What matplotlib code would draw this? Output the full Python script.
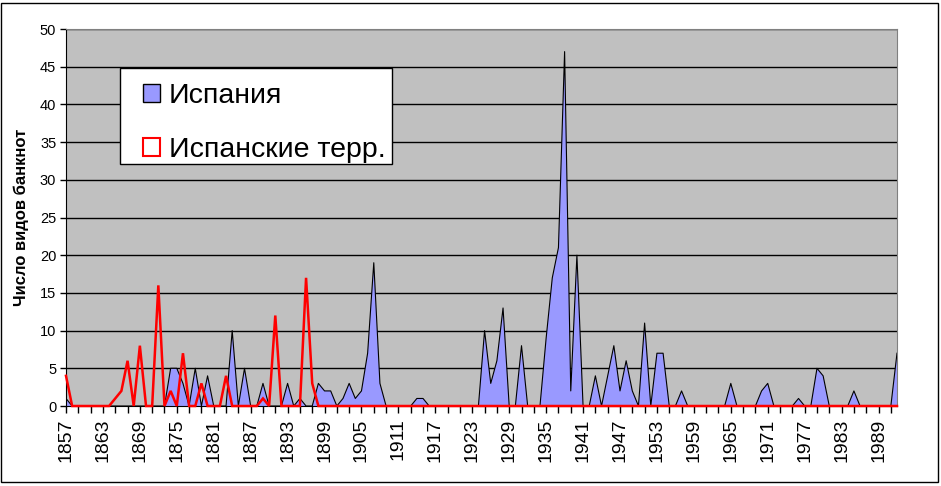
import matplotlib
matplotlib.use("Agg")
import matplotlib.pyplot as plt
from matplotlib.patches import Patch, Rectangle
import numpy as np

plt.rcParams['font.family'] = ['Liberation Sans', 'DejaVu Sans']

years = list(range(1857, 1993))

# Испания (blue area), one value per year 1857..1992
spain = [
    1, 0, 0, 0, 0, 0, 0, 0, 0, 0,          # 1857-1866
    0, 0, 0, 0, 0, 0, 0, 5, 5, 3,          # 1867-1876
    0, 5, 0, 4, 0, 0, 0, 10, 0, 5,         # 1877-1886
    0, 0, 3, 0, 0, 0, 3, 0, 1, 0,          # 1887-1896
    0, 3, 2, 2, 0, 1, 3, 1, 2, 7,          # 1897-1906
    19, 3, 0, 0, 0, 0, 0, 1, 1, 0,         # 1907-1916
    0, 0, 0, 0, 0, 0, 0, 0, 10, 3,         # 1917-1926
    6, 13, 0, 0, 8, 0, 0, 0, 9, 17,        # 1927-1936
    21, 47, 2, 20, 0, 0, 4, 0, 4, 8,       # 1937-1946
    2, 6, 2, 0, 11, 0, 7, 7, 0, 0,         # 1947-1956
    2, 0, 0, 0, 0, 0, 0, 0, 3, 0,          # 1957-1966
    0, 0, 0, 2, 3, 0, 0, 0, 0, 1,          # 1967-1976
    0, 0, 5, 4, 0, 0, 0, 0, 2, 0,          # 1977-1986
    0, 0, 0, 0, 0, 7,                      # 1987-1992
]

# Испанские терр. (red outline), one value per year 1857..1992
terr = [
    4, 0, 0, 0, 0, 0, 0, 0, 1, 2,          # 1857-1866
    6, 0, 8, 0, 0, 16, 0, 2, 0, 7,         # 1867-1876
    0, 0, 3, 0, 0, 0, 4, 0, 0, 0,          # 1877-1886
    0, 0, 1, 0, 12, 0, 0, 0, 0, 17,        # 1887-1896
    3, 0, 0, 0, 0, 0, 0, 0, 0, 0,          # 1897-1906
] + [0] * (1992 - 1906)

series_names = ["Испания", "Испанские терр."]
y_label = "Число видов банкнот"

W, H = 941, 486
fig = plt.figure(figsize=(W / 100, H / 100), dpi=100)
fig.patch.set_facecolor("white")

# chart-area border
fig.patches.append(Rectangle((1 / W, 1 - 482 / H), 937 / W, 479 / H,
                             transform=fig.transFigure, fill=False,
                             edgecolor="black", linewidth=1.0, zorder=0))

left, right, top, bottom = 66, 897, 29, 406
ax = fig.add_axes([left / W, 1 - bottom / H, (right - left) / W, (bottom - top) / H])
ax.set_facecolor("#C0C0C0")

ax.set_xlim(years[0], years[-1])
ax.set_ylim(0, 50)

yt = np.arange(0, 51, 5)
ax.set_yticks(yt)
ax.set_yticklabels([str(v) for v in yt], fontsize=10.5)
for v in yt[1:]:
    ax.axhline(v, color="black", linewidth=1.0, zorder=1)

ax.fill_between(years, spain, 0, facecolor="#9999FF", edgecolor="none", zorder=2)
ax.plot(years, spain, color="black", linewidth=0.8, zorder=3)
ax.plot(years, terr, color="#FF0000", linewidth=1.8, zorder=4,
        solid_joinstyle="miter", clip_on=False)

xt_minor = list(range(1857, 1993, 2))
xt_major = list(range(1857, 1993, 6))
ax.set_xticks(xt_minor)
ax.set_xticklabels([str(y) if y in xt_major else "" for y in xt_minor],
                   rotation=90, fontsize=14)
ax.tick_params(axis="x", length=5, width=1, direction="out", pad=4)
ax.tick_params(axis="y", length=4, width=1, direction="out", pad=3)

ax.set_ylabel(y_label, fontsize=12, fontweight="bold", labelpad=8)

for s in ["top", "right"]:
    ax.spines[s].set_color("#808080")
ax.spines["left"].set_color("black")
ax.spines["bottom"].set_color("black")

# legend frame
def px2ax(x, y):
    return ((x - left) / (right - left), (bottom - y) / (bottom - top))

fx0, fy0 = px2ax(120, 164)
fx1, fy1 = px2ax(392, 68)
ax.add_patch(Rectangle((fx0, fy0), fx1 - fx0, fy1 - fy0, transform=ax.transAxes,
                       facecolor="white", edgecolor="black", linewidth=1.0,
                       zorder=9, clip_on=False))

handles = [Patch(facecolor="#9999FF", edgecolor="black", linewidth=1.0),
           Patch(facecolor="white", edgecolor="#FF0000", linewidth=1.5)]
leg = ax.legend(handles, series_names, loc="upper left",
                bbox_to_anchor=px2ax(143, 83),
                fontsize=20.5, frameon=False, borderaxespad=0, borderpad=0,
                handlelength=0.6, handleheight=0.6, handletextpad=0.3,
                labelspacing=0.98)
leg.set_zorder(10)

fig.savefig("out.png", dpi=100)
